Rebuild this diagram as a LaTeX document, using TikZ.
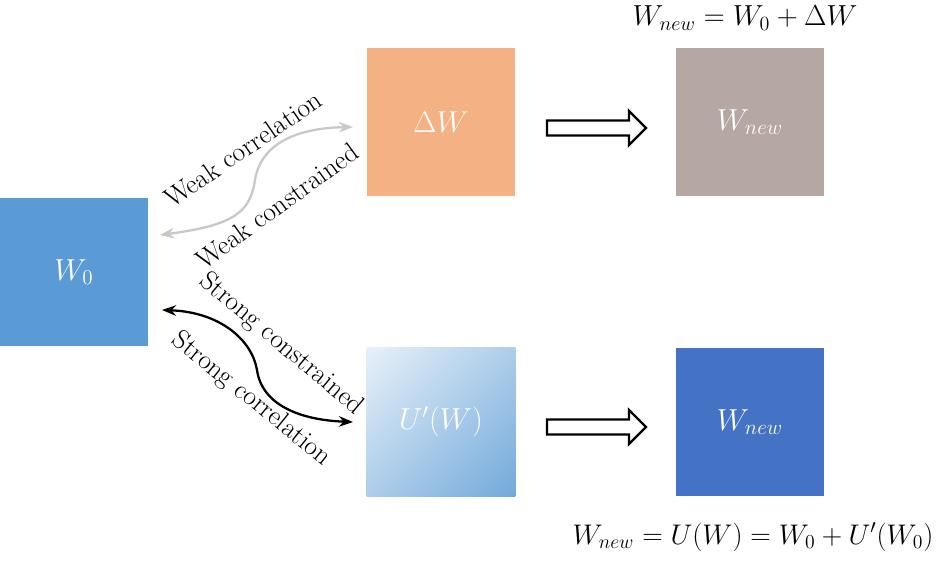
\documentclass[tikz,border=0pt]{standalone}
\usepackage{graphicx}
\usetikzlibrary{arrows.meta}
\definecolor{wblue}{HTML}{5B9BD5}
\definecolor{dorange}{HTML}{F4B183}
\definecolor{wtaupe}{HTML}{B5A7A1}
\definecolor{wdark}{HTML}{4472C4}
\definecolor{lgray}{HTML}{C8C8C8}
\pgfdeclareverticalshading{softdiag}{100bp}{color(0bp)=(wblue); color(100bp)=(white)}
\tikzset{
    mat/.style={minimum size=2.98cm, inner sep=0pt, text=white, font=\fontsize{18}{21}\selectfont},
    lbl/.style={font=\fontsize{15.5}{18}\selectfont},
    eqn/.style={font=\fontsize{17.28}{20}\selectfont}
}
\begin{document}
\begin{tikzpicture}[x=0.02cm, y=-0.02cm]
        \useasboundingbox (0,0) rectangle (947,562);
        % --- 1. Matrices ---
        \node[mat, fill=wblue] (w0) at (74,272) {$W_0$};
        \node[mat, fill=dorange] (dw) at (441,122) {$\Delta W$};
        \node[mat, fill=wtaupe] (wtop) at (750,122) {$W_{new}$};
        \node[mat, shading=softdiag, shading angle=45] (uw) at (441,422) {$U'(W)$};
        \node[mat, fill=wdark] (wbot) at (750,422) {$W_{new}$};

        % Formulas
        \node[eqn] (ftop) at (745,18) {\scalebox{0.955}{$W_{new} = W_0 + \Delta W$}};
        \node[eqn] (fbot) at (753,537) {\scalebox{0.935}{$W_{new} = U(W) = W_0 + U'(W_0)$}};

        % --- 2. Hollow arrows ---
        \foreach \y in {128, 427} {
            \draw[line width=1.3pt, fill=white] (547,{\y-7.5}) -- (629,{\y-7.5}) -- (629,{\y-17})
                -- (646,\y) -- (629,{\y+17}) -- (629,{\y+7.5}) -- (547,{\y+7.5}) -- cycle;
        }

        % --- 3. Weak link (gray) ---
        \coordinate (wl) at (160,235);
        \coordinate (wm) at (255,180);
        \coordinate (wr) at (353,127);
        \draw[lgray, line width=1.3pt, {Stealth[length=8pt,width=6pt]}-{Stealth[length=8pt,width=6pt]}] (wl)
            .. controls (235,225) and (250,212) .. (wm)
            .. controls (260,148) and (290,128) .. (wr);
        \node[lbl, rotate=34.5] (wcor) at (243,149) {Weak correlation};
        \node[lbl, rotate=36] (wcon) at (277,206) {Weak constrained};

        % --- 4. Strong link (black) ---
        \coordinate (sl) at (162,310);
        \coordinate (sm) at (257,370);
        \coordinate (sr) at (353,422);
        \draw[black, line width=1.3pt, {Stealth[length=8pt,width=6pt]}-{Stealth[length=8pt,width=6pt]}] (sl)
            .. controls (220,312) and (252,340) .. (sm)
            .. controls (262,405) and (300,420) .. (sr);
        \node[lbl, rotate=-40] (scon) at (281,344) {Strong constrained};
        \node[lbl, rotate=-39] (scor) at (251,399) {Strong correlation};
\end{tikzpicture}
\end{document}
